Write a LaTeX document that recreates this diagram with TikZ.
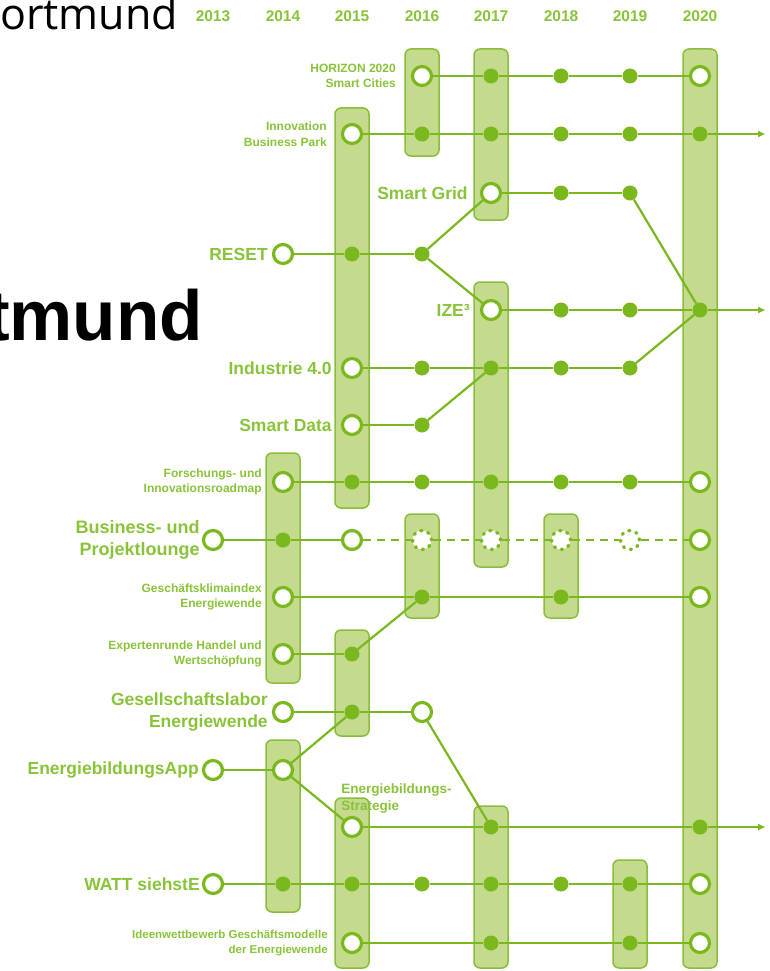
\documentclass[tikz,border=0pt]{standalone}
\usepackage{fontspec}
\setmainfont{Liberation Sans}
\newfontfamily\logofont{Open Sans}
\usetikzlibrary{positioning,arrows.meta}

\definecolor{linegreen}{RGB}{122,184,30}
\definecolor{barfill}{RGB}{196,218,141}
\definecolor{bardraw}{RGB}{137,190,60}
\definecolor{txtgreen}{RGB}{137,195,58}

\tikzset{
    openstop/.style={circle, draw=linegreen, fill=white, line width=3.2pt, minimum size=19pt, inner sep=0pt},
    fullstop/.style={circle, fill=linegreen, minimum size=15pt, inner sep=0pt},
    plannedstop/.style={circle, draw=linegreen, fill=white, line width=3.4pt, line cap=round, dash pattern=on 1.2pt off 6.26pt, minimum size=19pt, inner sep=0pt},
    track/.style={draw=linegreen, line width=2.2pt},
    plannedtrack/.style={track, dash pattern=on 8pt off 6pt},
    trackend/.style={-{Triangle[length=7pt,width=6pt]}},
    bar/.style={draw=bardraw, fill=barfill, line width=1.5pt, rounded corners=6pt},
    yearlbl/.style={text=txtgreen, font=\bfseries\fontsize{15.5}{18}\selectfont},
    biglbl/.style={text=txtgreen, font=\bfseries\fontsize{17.5}{22}\selectfont, align=right, inner sep=0pt},
    smalllbl/.style={text=txtgreen, font=\bfseries\fontsize{12}{15.5}\selectfont, align=right, inner sep=0pt},
}

\begin{document}
\begin{tikzpicture}[x=1pt, y=-1pt]
    \useasboundingbox (0,0) rectangle (770,971);

    % City name behind the chart
    \node[anchor=base west, inner sep=0pt, font=\logofont\fontsize{43}{43}\selectfont] (cityTop) at (0,30) {ortmund};
    \node[anchor=base west, inner sep=0pt, font=\bfseries\fontsize{71}{71}\selectfont] (cityBig) at (-14,340) {tmund};

    % Years
    \node[yearlbl] (y2013) at (213,16) {2013};
    \node[yearlbl] (y2014) at (283,16) {2014};
    \node[yearlbl] (y2015) at (352,16) {2015};
    \node[yearlbl] (y2016) at (422,16) {2016};
    \node[yearlbl] (y2017) at (491,16) {2017};
    \node[yearlbl] (y2018) at (561,16) {2018};
    \node[yearlbl] (y2019) at (630,16) {2019};
    \node[yearlbl] (y2020) at (700,16) {2020};

    % Bars (one per year and group)
    \draw[bar] (405,49) rectangle (439,156);
    \draw[bar] (474,49) rectangle (508,220);
    \draw[bar] (683,49) rectangle (717,968);
    \draw[bar] (335,108) rectangle (369,508);
    \draw[bar] (474,282) rectangle (508,567);
    \draw[bar] (266,453) rectangle (300,683);
    \draw[bar] (405,514) rectangle (439,618);
    \draw[bar] (544,514) rectangle (578,618);
    \draw[bar] (335,630) rectangle (369,736);
    \draw[bar] (266,740) rectangle (300,912);
    \draw[bar] (335,798) rectangle (369,968);
    \draw[bar] (474,806) rectangle (508,968);
    \draw[bar] (613,860) rectangle (647,968);

    % Row 0 (HORIZON 2020)
    \node[openstop] (h16) at (422,76) {};
    \node[fullstop] (h17) at (491,76) {};
    \node[fullstop] (h18) at (561,76) {};
    \node[fullstop] (h19) at (630,76) {};
    \node[openstop] (h20) at (700,76) {};
    \node[smalllbl, left=15pt of h16] {HORIZON 2020\\Smart Cities};

    % Row 1 (Innovation Business Park)
    \node[openstop] (ibp15) at (352,134) {};
    \node[fullstop] (ibp16) at (422,134) {};
    \node[fullstop] (ibp17) at (491,134) {};
    \node[fullstop] (ibp18) at (561,134) {};
    \node[fullstop] (ibp19) at (630,134) {};
    \node[fullstop] (ibp20) at (700,134) {};
    \coordinate (ibpEnd) at (765,134);
    \node[smalllbl, left=14pt of ibp15] {Innovation\\Business Park};

    % Row 2 (Smart Grid)
    \node[openstop] (sg17) at (491,193) {};
    \node[fullstop] (sg18) at (561,193) {};
    \node[fullstop] (sg19) at (630,193) {};
    \node[biglbl, left=12pt of sg17] {Smart Grid};

    % Row 3 (RESET)
    \node[openstop] (rs14) at (283,254) {};
    \node[fullstop] (rs15) at (352,254) {};
    \node[fullstop] (rs16) at (422,254) {};
    \node[biglbl, left=4pt of rs14] {RESET};

    % Row 4 (IZE3)
    \node[openstop] (ize17) at (491,310) {};
    \node[fullstop] (ize18) at (561,310) {};
    \node[fullstop] (ize19) at (630,310) {};
    \node[fullstop] (ize20) at (700,310) {};
    \coordinate (izeEnd) at (765,310);
    \node[biglbl, left=10pt of ize17] {IZE³};

    % Row 5 (Industrie 4.0)
    \node[openstop] (ind15) at (352,368) {};
    \node[fullstop] (ind16) at (422,368) {};
    \node[fullstop] (ind17) at (491,368) {};
    \node[fullstop] (ind18) at (561,368) {};
    \node[fullstop] (ind19) at (630,368) {};
    \node[biglbl, left=9pt of ind15] {Industrie 4.0};

    % Row 6 (Smart Data)
    \node[openstop] (sd15) at (352,425) {};
    \node[fullstop] (sd16) at (422,425) {};
    \node[biglbl, left=9pt of sd15] {Smart Data};

    % Row 7 (Forschungs- und Innovationsroadmap)
    \node[openstop] (fir14) at (283,482) {};
    \node[fullstop] (fir15) at (352,482) {};
    \node[fullstop] (fir16) at (422,482) {};
    \node[fullstop] (fir17) at (491,482) {};
    \node[fullstop] (fir18) at (561,482) {};
    \node[fullstop] (fir19) at (630,482) {};
    \node[openstop] (fir20) at (700,482) {};
    \node[smalllbl, left=10pt of fir14] {Forschungs- und\\Innovationsroadmap};

    % Row 8 (Business- und Projektlounge)
    \node[openstop] (bpl13) at (213,540) {};
    \node[fullstop] (bpl14) at (283,540) {};
    \node[openstop] (bpl15) at (352,540) {};
    \node[plannedstop] (bpl16) at (422,540) {};
    \node[plannedstop] (bpl17) at (491,540) {};
    \node[plannedstop] (bpl18) at (561,540) {};
    \node[plannedstop] (bpl19) at (630,540) {};
    \node[openstop] (bpl20) at (700,540) {};
    \node[biglbl, font=\bfseries\fontsize{18}{22}\selectfont, left=2pt of bpl13] {Business- und\\Projektlounge};

    % Row 9 (Geschaeftsklimaindex)
    \node[openstop] (gke14) at (283,597) {};
    \node[fullstop] (gke16) at (422,597) {};
    \node[fullstop] (gke18) at (561,597) {};
    \node[openstop] (gke20) at (700,597) {};
    \node[smalllbl, left=10pt of gke14] {Geschäftsklimaindex\\Energiewende};

    % Row 10 (Expertenrunde)
    \node[openstop] (exp14) at (283,654) {};
    \node[fullstop] (exp15) at (352,654) {};
    \node[smalllbl, left=10pt of exp14] {Expertenrunde Handel und\\Wertschöpfung};

    % Row 11 (Gesellschaftslabor)
    \node[openstop] (gl14) at (283,712) {};
    \node[fullstop] (gl15) at (352,712) {};
    \node[openstop] (gl16) at (422,712) {};
    \node[biglbl, left=4pt of gl14] {Gesellschaftslabor\\Energiewende};

    % Row 12 (EnergiebildungsApp)
    \node[openstop] (app13) at (213,770) {};
    \node[openstop] (app14) at (283,770) {};
    \node[biglbl, left=3pt of app13] {EnergiebildungsApp};

    % Row 13 (Energiebildungs-Strategie)
    \node[openstop] (ebs15) at (352,827) {};
    \node[fullstop] (ebs17) at (491,827) {};
    \node[fullstop] (ebs20) at (700,827) {};
    \coordinate (ebsEnd) at (765,827);
    \node[smalllbl, font=\bfseries\fontsize{13.5}{17}\selectfont, align=left, anchor=south west] at ([shift={(-3pt,6pt)}]ebs15.north west) {Energiebildungs-\\Strategie};

    % Row 14 (WATT siehstE)
    \node[openstop] (watt13) at (213,884) {};
    \node[fullstop] (watt14) at (283,884) {};
    \node[fullstop] (watt15) at (352,884) {};
    \node[fullstop] (watt16) at (422,884) {};
    \node[fullstop] (watt17) at (491,884) {};
    \node[fullstop] (watt18) at (561,884) {};
    \node[fullstop] (watt19) at (630,884) {};
    \node[openstop] (watt20) at (700,884) {};
    \node[biglbl, left=2pt of watt13] {WATT siehstE};

    % Row 15 (Ideenwettbewerb)
    \node[openstop] (idw15) at (352,943) {};
    \node[fullstop] (idw17) at (491,943) {};
    \node[fullstop] (idw19) at (630,943) {};
    \node[openstop] (idw20) at (700,943) {};
    \node[smalllbl, font=\bfseries\fontsize{11.5}{15}\selectfont, left=13pt of idw15] {Ideenwettbewerb Geschäftsmodelle\\der Energiewende};

    % Straight tracks
    \draw[track] (h16) -- (h17) -- (h18) -- (h19) -- (h20);
    \draw[track, trackend] (ibp15) -- (ibp16) -- (ibp17) -- (ibp18) -- (ibp19) -- (ibp20) -- (ibpEnd);
    \draw[track] (sg17) -- (sg18) -- (sg19);
    \draw[track] (rs14) -- (rs15) -- (rs16);
    \draw[track, trackend] (ize17) -- (ize18) -- (ize19) -- (ize20) -- (izeEnd);
    \draw[track] (ind15) -- (ind16) -- (ind17) -- (ind18) -- (ind19);
    \draw[track] (sd15) -- (sd16);
    \draw[track] (fir14) -- (fir15) -- (fir16) -- (fir17) -- (fir18) -- (fir19) -- (fir20);
    \draw[track] (bpl13) -- (bpl14) -- (bpl15);
    \draw[plannedtrack] (bpl15) -- (bpl16) -- (bpl17) -- (bpl18) -- (bpl19) -- (bpl20);
    \draw[track] (gke14) -- (gke16) -- (gke18) -- (gke20);
    \draw[track] (exp14) -- (exp15);
    \draw[track] (gl14) -- (gl15) -- (gl16);
    \draw[track] (app13) -- (app14);
    \draw[track, trackend] (ebs15) -- (ebs17) -- (ebs20) -- (ebsEnd);
    \draw[track] (watt13) -- (watt14) -- (watt15) -- (watt16) -- (watt17) -- (watt18) -- (watt19) -- (watt20);
    \draw[track] (idw15) -- (idw17) -- (idw19) -- (idw20);

    % Branches and merges
    \draw[track] (rs16) -- (sg17);
    \draw[track] (rs16) -- (ize17);
    \draw[track] (sg19) -- (ize20);
    \draw[track] (ind19) -- (ize20);
    \draw[track] (sd16) -- (ind17);
    \draw[track] (exp15) -- (gke16);
    \draw[track] (gl16) -- (ebs17);
    \draw[track] (app14) -- (gl15);
    \draw[track] (app14) -- (ebs15);

\end{tikzpicture}
\end{document}
